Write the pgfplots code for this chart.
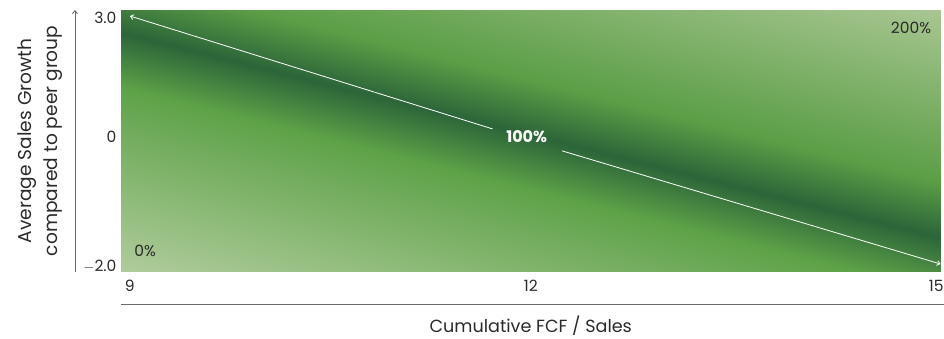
\documentclass[border=0pt]{standalone}
\usepackage{pgfplots}
\pgfplotsset{compat=1.18}
\usepackage{fontspec}
\setmainfont{Poppins}
\usetikzlibrary{arrows.meta}
\definecolor{txt}{HTML}{2A2A2A}
\definecolor{axln}{HTML}{6A6A6A}
\begin{document}
\begin{tikzpicture}
\begin{axis}[
  width=820pt, height=262pt, scale only axis,
  xmin=9, xmax=15, ymin=-2, ymax=3,
  axis line style={draw=none},
  major tick length=0pt,
  clip=false,
  xtick={9,12,15},
  xticklabels={\makebox[0pt][l]{\hspace{4pt}9}, 12, \makebox[0pt][r]{15\hspace{-3pt}}},
  ytick={-1.9,0.58,2.85},
  yticklabels={$-$2.0, 0, 3.0},
  xticklabel style={font=\fontsize{15.5}{17}\selectfont, text=txt, yshift=-5pt},
  yticklabel style={font=\fontsize{15.5}{17}\selectfont, text=txt, anchor=east, xshift=-1pt},
  /pgf/number format/assume math mode=true,
  xlabel={Cumulative FCF / Sales},
  xlabel style={at={(axis description cs:0.5,-0.206)}, anchor=center, font=\fontsize{17.6}{20}\selectfont, text=txt},
  ylabel={Average Sales Growth\\compared to peer group},
  ylabel style={at={(axis description cs:-0.0988,0.5)}, anchor=center, align=center, font=\fontsize{18.6}{26}\selectfont, text=txt},
  colormap={greens}{rgb255(0cm)=(176,204,156) rgb255(185cm)=(94,162,72) rgb255(240cm)=(44,101,57) rgb255(295cm)=(91,158,70) rgb255(468cm)=(168,198,146)},
  point meta min=-240, point meta max=228,
]
\addplot[patch, patch type=rectangle, shader=interp, point meta=explicit]
  table[meta=c] {
x y c
9 -2 -239.25
15 -2 -34.25
15 3 227.75
9 3 22.75
};
\addplot[white, line width=0.8pt, {Straight Barb[length=3pt,width=5pt]}-] coordinates {(9.066,2.885) (11.72,0.73)};
\addplot[white, line width=0.8pt, -{Straight Barb[length=3pt,width=5pt]}] coordinates {(12.23,0.31) (15.0,-1.85)};
\node[text=white, font=\fontsize{16}{18}\selectfont\bfseries] at (axis cs:11.97,0.576) {100\%};
\node[text=txt, font=\fontsize{15.5}{17}\selectfont, anchor=north east] at ([xshift=-6pt,yshift=-9pt]rel axis cs:1,1) {200\%};
\node[text=txt, font=\fontsize{15.5}{17}\selectfont, anchor=south west] at ([xshift=10pt,yshift=12pt]rel axis cs:0,0) {0\%};
\draw[axln, line width=0.9pt] ([yshift=-33pt]rel axis cs:0,0) -- ([yshift=-33pt, xshift=3pt]rel axis cs:1,0);
\draw[axln, line width=0.9pt, -{Straight Barb[length=3pt,width=5pt]}] ([xshift=-46pt]rel axis cs:0,0) -- ([xshift=-46pt]rel axis cs:0,1);
\path ([xshift=-121pt,yshift=-65pt]rel axis cs:0,0) rectangle ([xshift=3pt,yshift=10pt]rel axis cs:1,1);
\end{axis}
\end{tikzpicture}
\end{document}
